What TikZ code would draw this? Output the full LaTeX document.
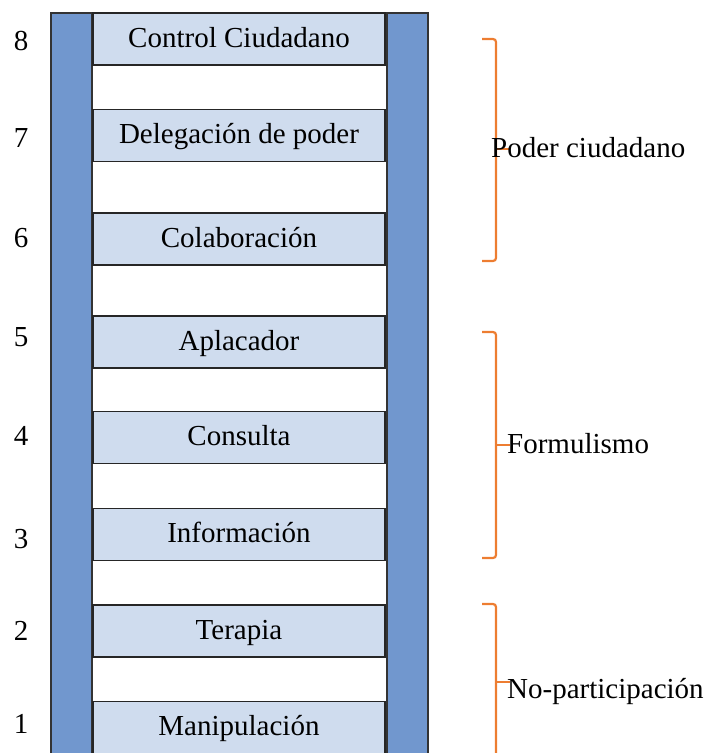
\documentclass[tikz,border=0pt]{standalone}
\usepackage{fontspec}
\setmainfont{Liberation Serif}
\usepackage{tikz}
\definecolor{railblue}{RGB}{113,151,206}
\definecolor{rungblue}{RGB}{207,220,238}
\definecolor{braceorange}{RGB}{237,125,49}

\begin{document}
\begin{tikzpicture}[x=1pt, y=-1pt, font=\fontsize{29}{33}\selectfont,
    rung node/.style={rectangle,draw=black!85,fill=rungblue,line width=1.1pt,
      minimum width=292pt,minimum height=52pt,inner sep=0pt,
      text height=20pt,text depth=4pt},
    num node/.style={inner sep=0pt},
    rail/.style={draw=black!80,fill=railblue,line width=1.1pt},
    brace line/.style={draw=braceorange,line width=2.2pt,rounded corners=3pt},
    label node/.style={anchor=base west,inner sep=0pt}]

    \useasboundingbox (0,0) rectangle (712,753);
    \clip (0,0) rectangle (712,753);

    % side rails of the ladder
    \path[rail] (51,13) rectangle (92,770);
    \path[rail] (387,13) rectangle (428,770);

    % rungs and their numbers
    \foreach \n/\y/\m/\t in {8/39/41/Control Ciudadano,
        7/135.5/138/Delegación de poder,
        6/239/238/Colaboración,
        5/342/337/Aplacador,
        4/437.5/436/Consulta,
        3/534.5/539/Información,
        2/631/631/Terapia,
        1/727.5/724/Manipulación}{
      \node[rung node] (r\n) at (239,\y) {\t};
      \node[num node] (n\n) at (21,\m) {\n};
    }

    % braces
    \draw[brace line] (482,39) -| (496,261) -- (482,261);
    \draw[brace line] (496,149) -- (510,149);
    \draw[brace line] (482,332) -| (496,558) -- (482,558);
    \draw[brace line] (496,445) -- (510,445);
    \draw[brace line] (482,604) -| (496,780);
    \draw[brace line] (496,682) -- (510,682);

    \node[label node] (poder) at (491,157) {Poder ciudadano};
    \node[label node] (formul) at (507,453) {Formulismo};
    \node[label node] (nopart) at (507,698) {No-participación};
\end{tikzpicture}
\end{document}
